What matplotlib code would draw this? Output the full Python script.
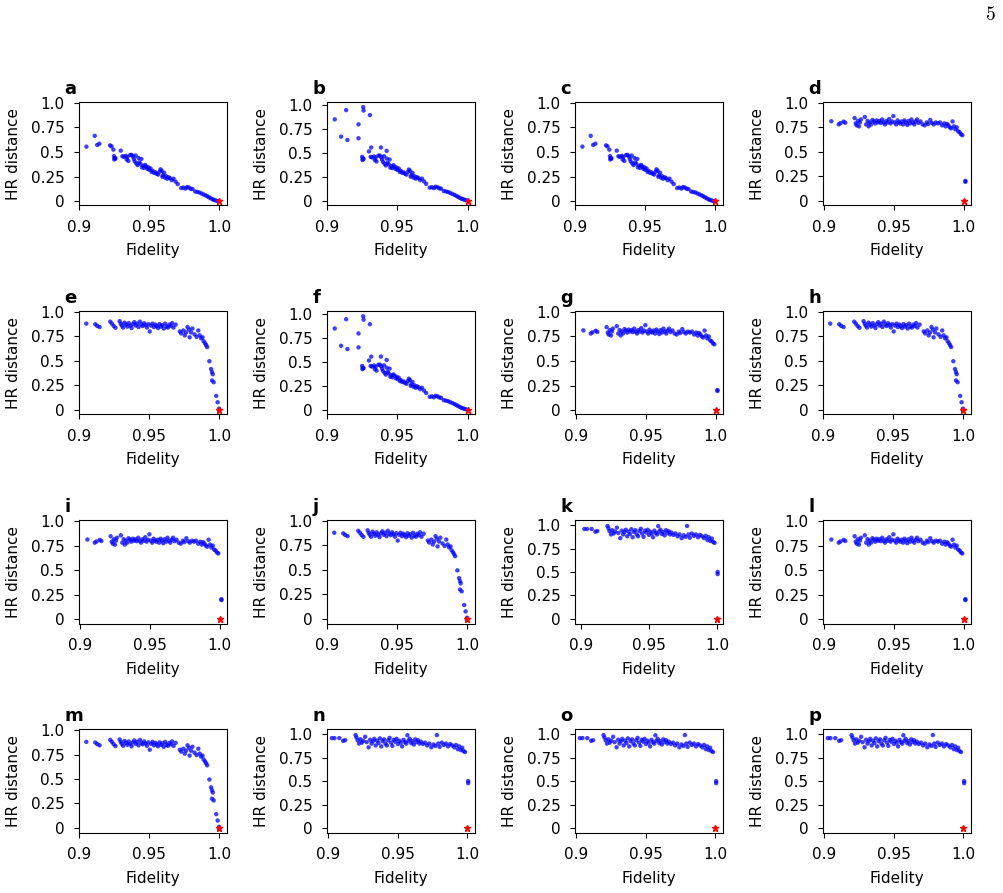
import matplotlib
matplotlib.use('Agg')
import matplotlib.pyplot as plt

# linear band shared by panels a, c (and b, f)
lin_fid = [0.9250, 0.9255, 0.9252, 0.9260, 0.9298, 0.9310, 0.9320, 0.9335, 0.9345, 0.9340,
           0.9352, 0.9365, 0.9375, 0.9385, 0.9392, 0.9398, 0.9405, 0.9410, 0.9418, 0.9425,
           0.9430, 0.9438, 0.9445, 0.9450, 0.9458, 0.9465, 0.9472, 0.9480, 0.9488, 0.9495,
           0.9502, 0.9510, 0.9518, 0.9525, 0.9535, 0.9545, 0.9555, 0.9565, 0.9575, 0.9582,
           0.9590, 0.9595, 0.9600, 0.9608, 0.9615, 0.9622, 0.9630, 0.9640, 0.9650, 0.9662,
           0.9675, 0.9690, 0.9705, 0.9730, 0.9745, 0.9760, 0.9772, 0.9785, 0.9798, 0.9810,
           0.9830, 0.9845, 0.9860, 0.9875, 0.9890, 0.9905, 0.9918, 0.9930, 0.9942, 0.9955,
           0.9965, 0.9978, 0.9990]
lin_hr = [0.458, 0.440, 0.425, 0.435, 0.515, 0.458, 0.452, 0.462, 0.448, 0.425,
          0.410, 0.470, 0.472, 0.455, 0.430, 0.405, 0.465, 0.385, 0.368, 0.440,
          0.395, 0.382, 0.430, 0.345, 0.360, 0.340, 0.370, 0.355, 0.330, 0.345,
          0.320, 0.335, 0.300, 0.310, 0.290, 0.295, 0.280, 0.272, 0.300, 0.325,
          0.310, 0.250, 0.265, 0.290, 0.240, 0.255, 0.230, 0.245, 0.235, 0.215,
          0.230, 0.200, 0.175, 0.135, 0.140, 0.130, 0.145, 0.140, 0.128, 0.125,
          0.100, 0.095, 0.090, 0.080, 0.070, 0.060, 0.050, 0.040, 0.030, 0.020,
          0.015, 0.008, 0.003]

# leading points of a / c
lin_head_fid = [0.9053, 0.9112, 0.9130, 0.9145, 0.9222, 0.9232, 0.9245]
lin_head_hr = [0.555, 0.665, 0.572, 0.585, 0.568, 0.558, 0.525]

# leading points of b / f
linb_head_fid = [0.9055, 0.9100, 0.9136, 0.9145, 0.9224, 0.9224, 0.9257, 0.9260,
                 0.9305, 0.9314, 0.9383, 0.9424]
linb_head_hr = [0.851, 0.670, 0.948, 0.635, 0.799, 0.653, 0.979, 0.944,
                0.896, 0.556, 0.556, 0.521]

# flat ~0.8 (d, g, i, l)
flat_fid = [0.9050, 0.9103, 0.9115, 0.9138, 0.9150, 0.9217, 0.9225, 0.9232, 0.9240, 0.9248,
            0.9255, 0.9262, 0.9290, 0.9300, 0.9310, 0.9318, 0.9325, 0.9335, 0.9345, 0.9355,
            0.9365, 0.9375, 0.9385, 0.9395, 0.9405, 0.9415, 0.9425, 0.9435, 0.9445, 0.9455,
            0.9465, 0.9475, 0.9485, 0.9495, 0.9505, 0.9515, 0.9525, 0.9535, 0.9545, 0.9555,
            0.9565, 0.9575, 0.9585, 0.9595, 0.9605, 0.9615, 0.9625, 0.9635, 0.9645, 0.9655,
            0.9665, 0.9675, 0.9690, 0.9705, 0.9720, 0.9735, 0.9745, 0.9760, 0.9772, 0.9785,
            0.9800, 0.9815, 0.9830, 0.9845, 0.9860, 0.9870, 0.9880, 0.9890, 0.9900, 0.9910,
            0.9920, 0.9930, 0.9940, 0.9950, 0.9960, 0.9970, 0.9980, 0.9990, 1.0012, 1.0012]
flat_hr = [0.812, 0.780, 0.792, 0.808, 0.797, 0.845, 0.790, 0.770, 0.815, 0.760,
           0.800, 0.830, 0.855, 0.780, 0.815, 0.760, 0.800, 0.780, 0.825, 0.810,
           0.790, 0.820, 0.800, 0.815, 0.795, 0.830, 0.800, 0.780, 0.815, 0.800,
           0.835, 0.790, 0.810, 0.865, 0.800, 0.780, 0.820, 0.800, 0.790, 0.810,
           0.780, 0.820, 0.800, 0.775, 0.815, 0.790, 0.830, 0.800, 0.780, 0.810,
           0.830, 0.795, 0.810, 0.780, 0.770, 0.800, 0.785, 0.825, 0.795, 0.780,
           0.800, 0.790, 0.800, 0.770, 0.790, 0.760, 0.785, 0.770, 0.750, 0.740,
           0.810, 0.760, 0.730, 0.750, 0.710, 0.700, 0.680, 0.670, 0.205, 0.195]

# flat then sharp drop (e, h, j, m)
drop_fid = [0.9052, 0.9116, 0.9130, 0.9147, 0.9223, 0.9235, 0.9247, 0.9260, 0.9290, 0.9298,
            0.9305, 0.9315, 0.9325, 0.9335, 0.9345, 0.9355, 0.9365, 0.9375, 0.9385, 0.9395,
            0.9405, 0.9415, 0.9425, 0.9435, 0.9445, 0.9455, 0.9465, 0.9475, 0.9485, 0.9495,
            0.9505, 0.9515, 0.9525, 0.9535, 0.9545, 0.9555, 0.9565, 0.9575, 0.9585, 0.9595,
            0.9605, 0.9615, 0.9625, 0.9635, 0.9645, 0.9655, 0.9665, 0.9675, 0.9690, 0.9720,
            0.9730, 0.9745, 0.9755, 0.9765, 0.9775, 0.9785, 0.9790, 0.9800, 0.9810, 0.9825,
            0.9840, 0.9852, 0.9862, 0.9872, 0.9882, 0.9890, 0.9900, 0.9908, 0.9915, 0.9931,
            0.9943, 0.9950, 0.9955, 0.9950, 0.9962, 0.9980, 0.9990, 1.0000, 1.0000]
drop_hr = [0.880, 0.874, 0.857, 0.845, 0.900, 0.880, 0.857, 0.838, 0.905, 0.880,
           0.860, 0.840, 0.890, 0.870, 0.850, 0.885, 0.860, 0.835, 0.875, 0.895,
           0.860, 0.880, 0.845, 0.900, 0.870, 0.855, 0.885, 0.865, 0.840, 0.875,
           0.800, 0.860, 0.880, 0.845, 0.870, 0.855, 0.835, 0.875, 0.850, 0.865,
           0.830, 0.880, 0.850, 0.840, 0.870, 0.855, 0.885, 0.840, 0.870, 0.800,
           0.780, 0.810, 0.760, 0.790, 0.845, 0.820, 0.740, 0.790, 0.830, 0.770,
           0.745, 0.810, 0.760, 0.730, 0.740, 0.700, 0.680, 0.660, 0.640, 0.495,
           0.415, 0.385, 0.362, 0.298, 0.280, 0.140, 0.075, 0.010, -0.012]

# flat ~0.92 (k, n, o, p)
high_fid = [0.9025, 0.9044, 0.9078, 0.9106, 0.9120, 0.9195, 0.9202, 0.9210, 0.9220, 0.9230,
            0.9240, 0.9250, 0.9264, 0.9275, 0.9289, 0.9300, 0.9310, 0.9320, 0.9330, 0.9340,
            0.9350, 0.9360, 0.9370, 0.9380, 0.9390, 0.9400, 0.9410, 0.9420, 0.9430, 0.9440,
            0.9450, 0.9460, 0.9470, 0.9480, 0.9490, 0.9500, 0.9510, 0.9520, 0.9530, 0.9540,
            0.9550, 0.9560, 0.9568, 0.9575, 0.9585, 0.9595, 0.9605, 0.9615, 0.9625, 0.9635,
            0.9645, 0.9655, 0.9665, 0.9680, 0.9695, 0.9710, 0.9725, 0.9740, 0.9755, 0.9770,
            0.9780, 0.9790, 0.9800, 0.9815, 0.9830, 0.9845, 0.9860, 0.9875, 0.9890, 0.9905,
            0.9918, 0.9930, 0.9940, 0.9952, 0.9962, 0.9972, 0.9982, 1.0005, 1.0005]
high_hr = [0.958, 0.958, 0.958, 0.929, 0.936, 0.990, 0.965, 0.935, 0.900, 0.945,
           0.910, 0.930, 0.972, 0.915, 0.860, 0.940, 0.900, 0.925, 0.950, 0.880,
           0.930, 0.905, 0.955, 0.870, 0.925, 0.945, 0.900, 0.880, 0.935, 0.960,
           0.910, 0.875, 0.940, 0.920, 0.950, 0.895, 0.930, 0.910, 0.870, 0.940,
           0.915, 0.900, 0.988, 0.930, 0.950, 0.905, 0.925, 0.890, 0.945, 0.915,
           0.935, 0.900, 0.920, 0.895, 0.910, 0.880, 0.900, 0.860, 0.890, 0.875,
           0.990, 0.900, 0.865, 0.910, 0.885, 0.900, 0.870, 0.895, 0.880, 0.860,
           0.885, 0.840, 0.870, 0.830, 0.855, 0.820, 0.810, 0.500, 0.478]

target_fid = 1.0
target_hr = 0.0

panel_letters = ['a', 'b', 'c', 'd', 'e', 'f', 'g', 'h',
                 'i', 'j', 'k', 'l', 'm', 'n', 'o', 'p']
panel_kind = ['lin', 'linb', 'lin', 'flat', 'drop', 'linb', 'flat', 'drop',
              'flat', 'drop', 'high', 'flat', 'drop', 'high', 'high', 'high']

xticks = [0.9, 0.95, 1.0]
xticklabels = ['0.9', '0.95', '1.0']
yticks = [0, 0.25, 0.5, 0.75, 1.0]
yticklabels = ['0', '0.25', '0.5', '0.75', '1.0']

series = {
    'lin': (lin_head_fid + lin_fid, lin_head_hr + lin_hr),
    'linb': (linb_head_fid + lin_fid, linb_head_hr + lin_hr),
    'flat': (flat_fid, flat_hr),
    'drop': (drop_fid, drop_hr),
    'high': (high_fid, high_hr),
}
xlims = {'lin': (0.9, 1.0055), 'linb': (0.9, 1.005), 'flat': (0.899, 1.005),
         'drop': (0.9, 1.0055), 'high': (0.899, 1.0052)}
ylims = {'lin': (-0.04, 1.01), 'linb': (-0.05, 1.035), 'flat': (-0.044, 1.01),
         'drop': (-0.05, 1.01), 'high': (-0.05, 1.053)}

plt.rcParams['font.size'] = 11

fig, axes = plt.subplots(4, 4, figsize=(10.04, 8.93), dpi=100)
fig.subplots_adjust(left=0.0787, right=0.9668, top=0.886, bottom=0.0675,
                    wspace=0.679, hspace=1.02)

for i, ax in enumerate(axes.flat):
    kind = panel_kind[i]
    fid, hr = series[kind]
    ax.scatter(fid, hr, s=10, color='blue', alpha=0.75, edgecolors='none', zorder=2)
    ax.plot([target_fid], [target_hr], marker='*', color='red', markersize=5,
            linestyle='none', zorder=3)
    ax.set_xticks(xticks)
    ax.set_xticklabels(xticklabels)
    ax.set_yticks(yticks)
    ax.set_yticklabels(yticklabels)
    ax.tick_params(length=3.5, pad=7)
    ax.set_xlim(*xlims[kind])
    if panel_letters[i] == 'k':
        ax.set_xlim(0.8956, 1.0042)
    ax.set_ylim(*ylims[kind])
    ax.set_xlabel('Fidelity', labelpad=6)
    ax.set_ylabel('HR distance', labelpad=7)
    ax.text(-0.1, 1.04, panel_letters[i], transform=ax.transAxes,
            fontsize=13, fontweight='bold', ha='left', va='bottom')

fig.text(0.992, 0.993, '5', family='cmr10', fontsize=14, ha='right', va='top')

fig.savefig('out.png', dpi=100)
